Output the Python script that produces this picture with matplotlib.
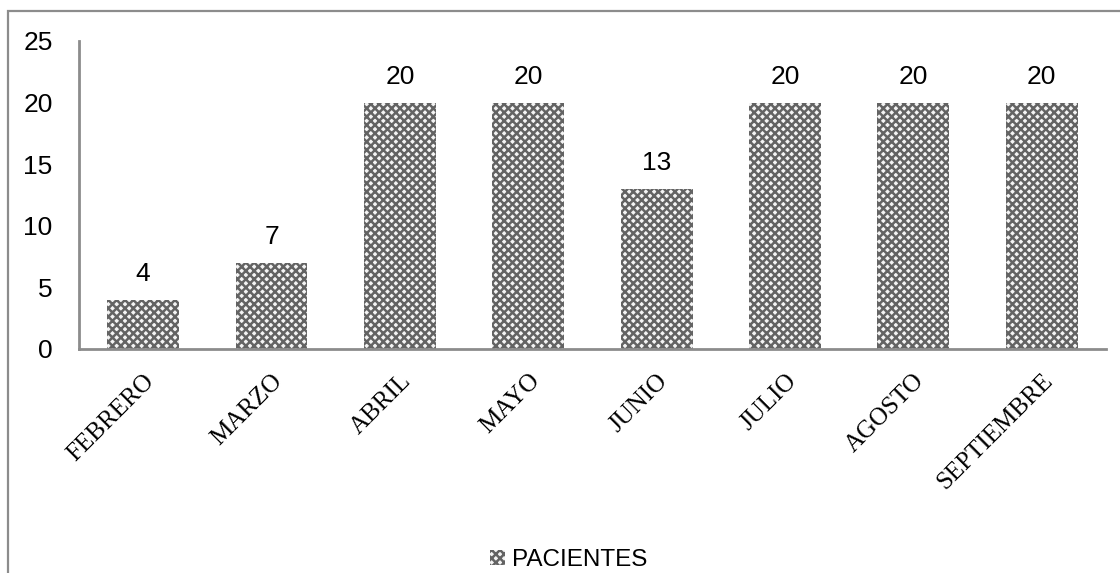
import matplotlib.pyplot as plt
from matplotlib.patches import Rectangle

# Monthly patient counts
meses = ["FEBRERO", "MARZO", "ABRIL", "MAYO", "JUNIO", "JULIO", "AGOSTO", "SEPTIEMBRE"]
pacientes = [4, 7, 20, 20, 13, 20, 20, 20]
yticks = [0, 5, 10, 15, 20, 25]

plt.rcParams["hatch.linewidth"] = 1.8
plt.rcParams["hatch.color"] = "#636363"

fig = plt.figure(figsize=(11.2, 5.73), dpi=100)
ax = fig.add_axes([0.0705, 0.391, 0.917, 0.5375])

# outer chart frame
fig.patches.append(Rectangle((8 / 1120, -0.05), 1.2, 1 - 11 / 573 + 0.05,
                             transform=fig.transFigure, fill=False,
                             edgecolor="#8c8c8c", linewidth=1.6))

x = range(len(meses))
bars = ax.bar(x, pacientes, width=0.56, color="#f4f4f4", edgecolor="#636363",
              linewidth=0, hatch="xxxx", label="PACIENTES")

for xi, v in zip(x, pacientes):
    ax.annotate(str(v), (xi, v), xytext=(0, 10), textcoords="offset points",
                ha="center", va="bottom", fontsize=19, family="Liberation Sans")

ax.set_xlim(-0.5, len(meses) - 0.5)
ax.set_ylim(0, 25)
ax.set_yticks(yticks)
ax.set_yticklabels([str(t) for t in yticks], fontsize=19, family="Liberation Sans")
ax.set_xticks(list(x))
ax.set_xticklabels(meses, rotation=45, ha="right", rotation_mode="anchor",
                   fontsize=18, family="Liberation Serif")
ax.tick_params(axis="both", length=0)
ax.tick_params(axis="y", pad=19)
ax.tick_params(axis="x", pad=15)

for side in ["top", "right"]:
    ax.spines[side].set_visible(False)
for side in ["left", "bottom"]:
    ax.spines[side].set_color("#8c8c8c")
    ax.spines[side].set_linewidth(2)

leg = fig.legend(loc="lower center", bbox_to_anchor=(0.508, -0.035), frameon=False,
                 prop={"family": "Liberation Sans", "size": 17.5},
                 handlelength=0.6, handleheight=0.6, handletextpad=0.3)

fig.savefig("out.png", dpi=100)
